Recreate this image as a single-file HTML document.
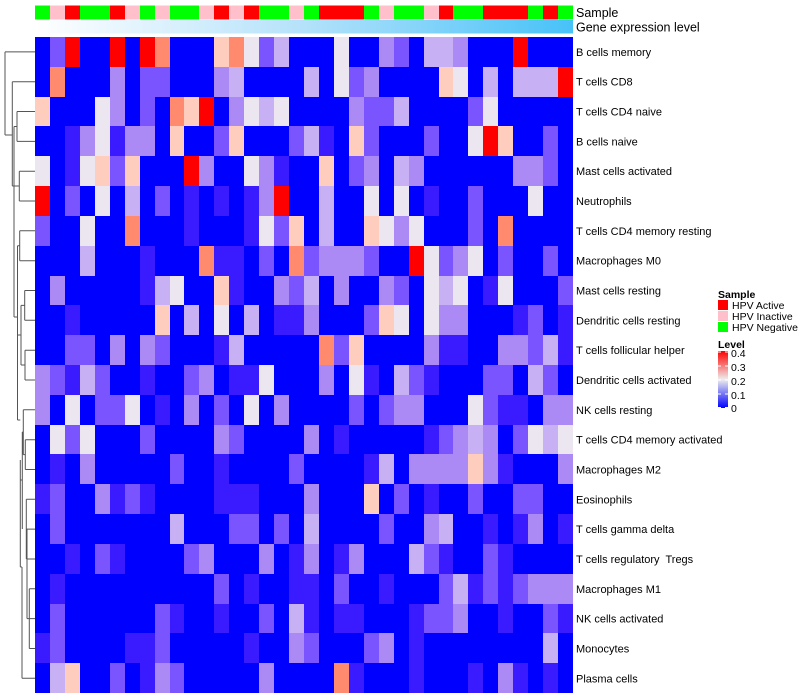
<!DOCTYPE html>
<html><head><meta charset="utf-8"><style>
html,body{margin:0;padding:0;background:#fff;}
svg{display:block;}
text{font-family:"Liberation Sans",sans-serif;fill:#000;}
</style></head><body>
<svg id="s" width="800" height="700" viewBox="0 0 800 700" xmlns="http://www.w3.org/2000/svg">
<defs>
<linearGradient id="ge" x1="0" x2="1" y1="0" y2="0"><stop offset="0" stop-color="#ffffff"/><stop offset="0.5" stop-color="#b4e2fa"/><stop offset="1" stop-color="#47c2f8"/></linearGradient>
<linearGradient id="lv" x1="0" x2="0" y1="0" y2="1"><stop offset="0" stop-color="#ff0000"/><stop offset="0.5" stop-color="#eeeeee"/><stop offset="1" stop-color="#0000ff"/></linearGradient>
</defs>
<g id="cells" shape-rendering="crispEdges"></g>
<rect x="35" y="20" width="538" height="13.5" fill="url(#ge)"/>
<g stroke="#555" stroke-width="1" fill="none">
<path d="M5,51.9V135M5,51.9H35M5,135H12.3
M12.3,81.7V186M12.3,81.7H35
M19.3,171.2V201M19.3,171.2H35M19.3,201H35M12.3,186H19.3
M17,111.5V141.4M17,111.5H35M17,141.4H35M14,126.5H17
M14,126.5V317M14,317H17.5
M17.5,245.7V420M17.5,245.7H19.7
M19.7,230.8V260.7M19.7,230.8H35M19.7,260.7H35
M24.7,290.5V320.3M24.7,290.5H35M24.7,320.3H35M21,305.4H24.7
M25,350.2V380M25,350.2H35M25,380H35M21,365H25
M21,305.4V365M17.5,335H21
M25.3,439.7V469.5M25.3,439.7H35M25.3,469.5H35M23.3,454.6H25.3
M23.3,409.8V454.6M23.3,409.8H35M22.3,432H23.3
M26.3,499.3V559M26.3,499.3H35M26.3,529.1H35M26.3,559H35
M29.3,588.8V648.5M29.3,588.8H35M29.3,618.6H35M29.3,648.5H35M27,618.6H29.3
M27,529.1V618.6M26.3,529.1H27
M22.3,432V529M20.3,480H22.3
M20.3,460V567M17.5,420H20.3
M22,567V678.3M22,678.3H35M20.3,567H22
"/>
</g>
<g font-size="11">
<text x="576" y="55.9">B cells memory</text>
<text x="576" y="85.7">T cells CD8</text>
<text x="576" y="115.5">T cells CD4 naive</text>
<text x="576" y="145.4">B cells naive</text>
<text x="576" y="175.2">Mast cells activated</text>
<text x="576" y="205">Neutrophils</text>
<text x="576" y="234.8">T cells CD4 memory resting</text>
<text x="576" y="264.7">Macrophages M0</text>
<text x="576" y="294.5">Mast cells resting</text>
<text x="576" y="324.3">Dendritic cells resting</text>
<text x="576" y="354.2">T cells follicular helper</text>
<text x="576" y="384">Dendritic cells activated</text>
<text x="576" y="413.8">NK cells resting</text>
<text x="576" y="443.7">T cells CD4 memory activated</text>
<text x="576" y="473.5">Macrophages M2</text>
<text x="576" y="503.3">Eosinophils</text>
<text x="576" y="533.1">T cells gamma delta</text>
<text x="576" y="563">T cells regulatory&#160; Tregs</text>
<text x="576" y="592.8">Macrophages M1</text>
<text x="576" y="622.6">NK cells activated</text>
<text x="576" y="652.5">Monocytes</text>
<text x="576" y="682.3">Plasma cells</text>
</g>
<text x="576" y="17" font-size="12.5">Sample</text>
<text x="576" y="31.5" font-size="12.5">Gene expression level</text>
<text x="718" y="298" font-size="10.5" font-weight="bold">Sample</text>
<rect x="718" y="300" width="10" height="10" fill="#ff0000"/>
<rect x="718" y="311" width="10" height="10" fill="#ffc0cb"/>
<rect x="718" y="322" width="10" height="10" fill="#00ff00"/>
<text x="732" y="309" font-size="10.5">HPV Active</text>
<text x="732" y="320" font-size="10.5">HPV Inactive</text>
<text x="732" y="331" font-size="10.5">HPV Negative</text>
<text x="718" y="348" font-size="10.5" font-weight="bold">Level</text>
<rect x="718" y="351" width="10" height="57" fill="url(#lv)"/>
<g stroke="#fff" stroke-width="1"><path d="M718,352H721M725,352H728M718,366H721M725,366H728M718,380H721M725,380H728M718,394H721M725,394H728M718,407.5H721M725,407.5H728"/></g>
<g font-size="10.5">
<text x="731" y="357">0.4</text>
<text x="731" y="371">0.3</text>
<text x="731" y="385">0.2</text>
<text x="731" y="399">0.1</text>
<text x="731" y="412">0</text>
</g>
</svg>
<script>
(function(){
var pal=["#0000ff","#3a1aff","#7a55ff","#ab8af5","#c8b0f5","#ece6f0","#ffcdbd","#ff8a6e","#ff0000"];
var d=[
"028008087000675240005003204430008000",
"070003022000340000405230000650404448",
"600053020768035450000322400002500000",
"001351330600260002410620002005860020",
"501562600083005310060230430000003320",
"802050402010101380040050501002000500",
"200500700010001526040065350002070000",
"000400010007110207233320085235020020",
"030000014500610032403003205450150002",
"001000006040504011300026505330001201",
"002203032000140000072600003110033241",
"321420010023011500030510421000220420",
"305022501030205030000202330005211033",
"052500020000320000301000001234302545",
"010300000200100002000014033336310003",
"120031210000111000300060201002002200",
"020000000400022020400002003400101301",
"001021000023000301301300042100210000",
"010000000000201001102001000241212333",
"020000002100100204101100012230010021",
"120000112000001003200023010000000040",
"046002013200000300007100010001031010"];
var smp="GPRGGRPGPGGPRPRGGPGRRRGPGGPRGGRRRGRG";
var sc={G:"#00ff00",P:"#ffc0cb",R:"#ff0000"};
var g=document.getElementById("cells"),ns="http://www.w3.org/2000/svg";
var cw=538/36,rh=656/22;
function r(x,y,w,h,f){var e=document.createElementNS(ns,"rect");e.setAttribute("x",x);e.setAttribute("y",y);e.setAttribute("width",w);e.setAttribute("height",h);e.setAttribute("fill",f);g.appendChild(e);}
for(var c=0;c<36;c++){var x0=Math.round(35+c*cw),x1=Math.round(35+(c+1)*cw);
 r(x0,5.5,x1-x0,14,sc[smp[c]]);
 for(var i=0;i<22;i++){var y0=Math.round(37+i*rh),y1=Math.round(37+(i+1)*rh);r(x0,y0,x1-x0,y1-y0,pal[+d[i][c]]);}
}
})();
</script>
</body></html>
